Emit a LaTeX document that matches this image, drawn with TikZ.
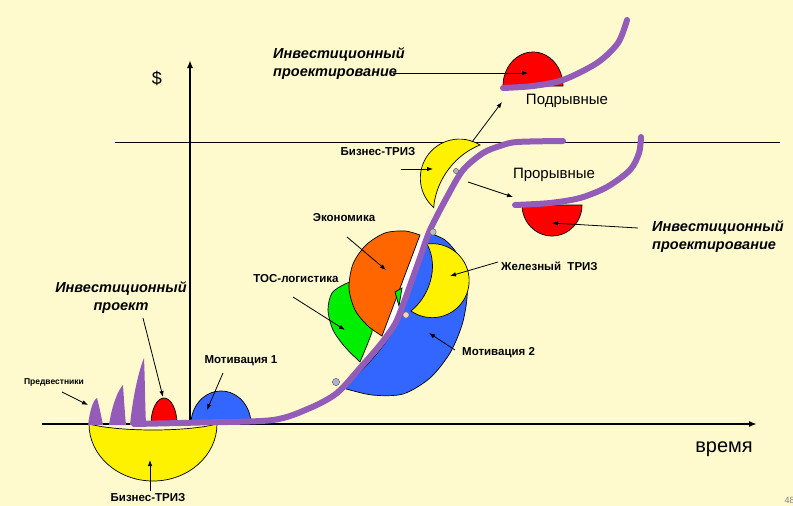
\documentclass[tikz,border=0pt]{standalone}
\usepackage{fontspec}
\setmainfont{Liberation Sans}
\usetikzlibrary{arrows.meta}

\definecolor{paper}{RGB}{254,250,206}
\definecolor{trend}{RGB}{146,92,184}
\definecolor{blueM}{RGB}{51,102,255}
\definecolor{orangeE}{RGB}{255,102,0}
\definecolor{greenT}{RGB}{0,238,0}

\tikzset{
	lbl/.style={font=\bfseries\fontsize{11.5}{13}\selectfont, inner sep=0pt},
	ilbl/.style={font=\bfseries\itshape\fontsize{14.5}{18}\selectfont, inner sep=0pt},
	plainlbl/.style={font=\fontsize{15}{17}\selectfont, inner sep=0pt},
	part/.style={draw=black, line width=0.7pt},
	trendline/.style={draw=trend, line width=6pt, line cap=round, line join=round},
	ptr/.style={->, line width=0.8pt},
	knot/.style={draw=black!60, line width=0.5pt},
}

\begin{document}
\begin{tikzpicture}[x=1pt, y=-1pt, >={Latex[length=6pt,width=4.5pt]}]
			\useasboundingbox[fill=paper] (0,0) rectangle (793,506);

			% Axes and the upper level line.
			\coordinate (lvlL) at (115,142);
			\coordinate (lvlR) at (780,142);
			\coordinate (o) at (190,424);
			\coordinate (xl) at (42,424);
			\coordinate (xr) at (757,424);
			\coordinate (yt) at (190,60);
			\draw[line width=0.8pt] (lvlL) -- (lvlR);
			\draw[line width=2pt, -{Latex[length=8pt,width=6pt]}] (xl) -- (xr);
			\draw[line width=2.2pt, -{Latex[length=8pt,width=6pt]}] (o) -- (yt);
			\node[font=\fontsize{18}{20}\selectfont] (dollar) at (157,78) {\$};
			\node[font=\fontsize{20}{22}\selectfont, anchor=base] (time) at (724,452) {время};

			% Start: yellow bowl, small red, first blue and the spikes.
			\fill[yellow, part] (89,424) .. controls (120,432) and (186,432) .. (217,424)
				arc[start angle=0, end angle=180, x radius=64, y radius=57] -- cycle;
			\fill[red, part] (151,424) arc[start angle=180, end angle=360, x radius=13, y radius=26] -- cycle;
			\fill[blueM, part] (191,424) arc[start angle=180, end angle=360, x radius=30, y radius=33] -- cycle;
			\fill[trend] (88,425) .. controls (90,410) and (93,400) .. (97,398)
				.. controls (99,405) and (101,415) .. (103,425) -- cycle;
			\fill[trend] (109,425) .. controls (112,405) and (118,390) .. (123,385)
				.. controls (124,400) and (125,415) .. (126,425) -- cycle;
			\fill[trend] (130,425) .. controls (133,395) and (139,370) .. (144,358)
				.. controls (145,380) and (145,405) .. (146,423) -- cycle;

			% Middle cluster.
			\fill[blueM, part] plot[smooth] coordinates {(427,232) (445,240) (458,255) (466,275) (467,298)
				(462,325) (450,353) (430,378) (403,394) (372,395) (343,388)}
				.. controls (372,362) and (396,335) .. (406,302)
				.. controls (414,278) and (420,252) .. cycle;
			\fill[yellow, part] (427,244) arc[start angle=-98, end angle=125, radius=37]
				.. controls (428,298) and (440,268) .. cycle;
			\fill[greenT, part] plot[smooth] coordinates {(360,362) (345,347) (333,330) (328,310) (332,293) (345,284) (360,279)}
				-- (375,300) -- (372,332) .. controls (368,343) .. cycle;
			\fill[white] (382,336) -- (420,235) -- (428,233)
				.. controls (414,275) and (405,310) .. (390,336) -- cycle;
			\fill[orangeE, part] plot[smooth] coordinates {(420,235) (405,231) (385,233) (366,245) (353,264)
				(349,288) (355,310) (368,326) (382,336)} -- cycle;
			\fill[greenT, part] (395,292) -- (402,288) -- (399,306) -- cycle;

			% Top: business crescent and the two red caps.
			\fill[yellow, part] (480,145) arc[start angle=-58, end angle=-229, radius=39]
				.. controls (435,186) and (450,157) .. cycle;
			\fill[red, part] (503,86) arc[start angle=180, end angle=360, x radius=30, y radius=34] -- cycle;
			\fill[red, part] (582,205) arc[start angle=0, end angle=180, x radius=30, y radius=31] -- cycle;

			% Purple trend curves.
			\draw[trendline] plot[smooth] coordinates {(134,424) (200,422.5) (273,420) (310,408) (337,393)
				(360,368) (380,345) (395,324) (404,302) (412,280) (421,255) (430,230) (447,197)
				(463,170) (483,153) (500,146) (517,142) (563,141)};
			\draw[trendline] plot[smooth] coordinates {(503,88) (533,86) (563,80) (597,63) (618,43) (627,20)};
			\draw[trendline] plot[smooth] coordinates {(515,205) (550,203) (580,198) (607,187) (630,170) (639,153) (641,137)};

			% Small junction dots.
			\filldraw[fill=gray!50, knot] (433,232) circle (3.2);
			\filldraw[fill=red!20, knot] (406,315) circle (3.2);
			\filldraw[fill=blue!20!gray!50, knot] (336,382) circle (3.6);
			\filldraw[fill=gray!60, knot] (456,171) circle (2.6);

			% Labels.
			\node[lbl, font=\bfseries\fontsize{8.5}{10}\selectfont] (pred) at (54,382) {Предвестники};
			\node[ilbl, align=center] (invProj) at (121,298) {Инвестиционный\\проект};
			\node[lbl] (bizLow) at (148,498) {Бизнес-ТРИЗ};
			\node[lbl] (motA) at (241,361) {Мотивация 1};
			\node[lbl] (toc) at (296,279) {ТОС-логистика};
			\node[lbl] (econ) at (344,218) {Экономика};
			\node[lbl, anchor=west] (iron) at (501,266) {Железный~ ТРИЗ};
			\node[lbl, anchor=west] (motB) at (462,353) {Мотивация 2};
			\node[lbl] (bizTop) at (378,152) {Бизнес-ТРИЗ};
			\node[plainlbl] (disr) at (567,101) {Подрывные};
			\node[plainlbl] (brk) at (554,175) {Прорывные};
			\node[ilbl, align=left, anchor=west] (invTop) at (273,64) {Инвестиционный\\проектирование};
			\node[ilbl, align=left, anchor=west] (invRight) at (652,237) {Инвестиционный\\проектирование};
			\node[font=\fontsize{9}{10}\selectfont, text=gray, anchor=west] (page) at (781,500) {48};

			% Pointer ends.
			\coordinate (predS) at (62,392);   \coordinate (predE) at (88,405);
			\coordinate (invPS) at (143,318);  \coordinate (invPE) at (163,397);
			\coordinate (motAS) at (223,373);  \coordinate (motAE) at (207,410);
			\coordinate (bizLS) at (150,491);  \coordinate (bizLE) at (150,460);
			\coordinate (tocS) at (293,297);   \coordinate (tocE) at (345,330);
			\coordinate (econS) at (347,237);  \coordinate (econE) at (386,270);
			\coordinate (ironS) at (498,262);  \coordinate (ironE) at (450,276);
			\coordinate (motBS) at (455,350);  \coordinate (motBE) at (429,333);
			\coordinate (bizTS) at (401,169);  \coordinate (bizTE) at (433,169);
			\coordinate (disrS) at (472,142);  \coordinate (disrE) at (502,102);
			\coordinate (brkS) at (468,182);   \coordinate (brkE) at (513,197);
			\coordinate (invTS) at (393,73);   \coordinate (invTE) at (528,73);
			\coordinate (invRS) at (638,228);  \coordinate (invRE) at (552,223);

			% Pointers.
			\draw[ptr] (predS) -- (predE);
			\draw[ptr] (invPS) -- (invPE);
			\draw[ptr] (motAS) -- (motAE);
			\draw[ptr] (bizLS) -- (bizLE);
			\draw[ptr] (tocS) -- (tocE);
			\draw[ptr] (econS) -- (econE);
			\draw[ptr] (ironS) -- (ironE);
			\draw[ptr] (motBS) -- (motBE);
			\draw[ptr] (bizTS) -- (bizTE);
			\draw[ptr] (disrS) -- (disrE);
			\draw[ptr] (brkS) -- (brkE);
			\draw[ptr] (invTS) -- (invTE);
			\draw[ptr] (invRS) -- (invRE);
		\end{tikzpicture}
\end{document}
